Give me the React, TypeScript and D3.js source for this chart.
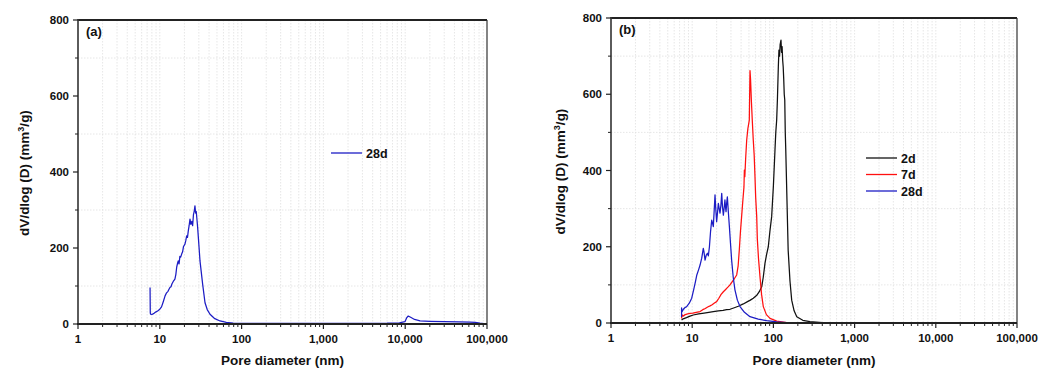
import React from "react";
import * as d3 from "d3";

const xTickValues = [1, 10, 100, 1000, 10000, 100000];
const xTickLabels = ["1", "10", "100", "1,000", "10,000", "100,000"];
const yTickValues = [0, 200, 400, 600, 800];
const yMinorValues = [100, 300, 500, 700];

const seriesA28: [number, number][] = [
  [7.6, 96], [7.65, 30], [7.7, 26], [8.0, 25], [8.5, 28], [9.0, 32], [9.5, 35], [10.0, 39], [10.5, 45],
  [11.0, 58], [11.6, 74], [12.1, 82], [12.6, 86], [13.0, 92], [13.3, 96], [13.7, 98], [14.1, 106],
  [14.6, 112], [15.3, 118], [15.7, 130], [16.1, 150], [16.5, 160], [16.8, 166], [17.2, 158], [17.6, 178],
  [18.0, 176], [18.5, 184], [19.0, 190], [19.5, 204], [20.3, 210], [20.8, 220], [21.3, 232], [21.8, 228],
  [22.3, 245], [22.8, 258], [23.4, 276], [24.0, 262], [24.6, 270], [25.2, 259], [25.8, 288], [26.4, 298],
  [26.9, 311], [27.4, 292], [27.9, 296], [28.3, 281], [29.0, 255], [29.6, 228], [31.0, 166], [33.4, 105],
  [35.7, 56], [38, 38], [41.1, 25.6], [47, 14], [54.5, 8], [65, 4], [79, 2], [100, 1.5], [300, 1.5],
  [1000, 1.5], [3000, 1.5], [6000, 2], [8500, 3], [9930, 6], [10400, 16], [10900, 21], [11800, 17],
  [13000, 12], [15200, 8], [20000, 7], [30000, 6], [45000, 5.5], [62000, 5], [72000, 4], [82000, 2],
  [92000, 1], [100000, 0.5],
];

const seriesB2: [number, number][] = [
  [7.4, 8], [7.6, 10], [8.5, 14], [9.4, 18], [10.3, 21], [12, 24], [14, 26], [16, 28], [18.2, 30],
  [21, 32], [24, 33], [26.5, 35], [29.2, 36], [33, 40], [37, 44], [42.6, 50], [48, 56], [52, 60],
  [56.5, 65], [62, 72], [67, 82], [71.8, 95], [75, 120], [78.8, 157], [82.5, 180], [86.5, 200],
  [90.5, 240], [95.2, 279], [100, 360], [104.6, 454], [107, 500], [109.7, 532], [112, 585], [115, 672],
  [117, 716], [119, 700], [121, 730], [124, 742], [126, 710], [128, 725], [130, 690], [132, 672],
  [134, 640], [136, 600], [138, 585], [140, 500], [142, 454], [147, 320], [152, 191], [160, 110],
  [168, 60], [180, 32], [194, 16.5], [230, 7], [282, 3.4], [400, 1], [546, 0.3], [10000, 0.3],
  [100000, 0.5],
];

const seriesB7: [number, number][] = [
  [7.4, 12], [7.45, 22], [7.7, 18], [8.2, 22], [8.8, 24], [9.4, 25], [10.2, 26], [11.2, 28], [12.5, 30],
  [13.5, 35], [14.5, 38], [15.5, 42], [16.6, 45], [17.6, 48], [18.6, 52], [20.0, 56], [21.3, 65],
  [22.7, 75], [24.2, 82], [25.8, 88], [27.5, 94], [29.2, 100], [31, 108], [33, 116], [35.3, 126],
  [36.8, 150], [38, 191], [39.3, 240], [40.6, 279], [42, 320], [43.4, 357], [43.9, 401], [44.5, 384],
  [45.5, 430], [46.9, 480], [48.5, 510], [50.5, 532], [51, 600], [51.5, 662], [52.3, 640], [53.5, 585],
  [55, 530], [56.5, 480], [58, 440], [59.3, 384], [60.5, 330], [62.3, 279], [63.4, 220], [65.5, 170],
  [68.4, 121], [71.5, 75], [75.1, 43], [82, 22], [90.8, 12], [110, 5], [146, 1], [250, 0.5],
  [1000, 0.3], [10000, 0.3], [100000, 0.5],
];

const seriesB28: [number, number][] = [
  [7.4, 16], [7.4, 40], [7.5, 30], [7.8, 36], [8.1, 40], [8.55, 43], [9.2, 52], [9.86, 65], [10.5, 90],
  [11.0, 110], [11.4, 126], [12.0, 140], [12.5, 152], [13.1, 170], [13.7, 196], [14.0, 185], [14.4, 165],
  [14.9, 178], [15.4, 183], [15.8, 176], [16.3, 200], [16.8, 238], [17.4, 270], [17.8, 262], [18.2, 253],
  [18.6, 290], [19.1, 336], [19.5, 300], [20.0, 266], [20.5, 290], [21.0, 314], [21.5, 300], [22.0, 288],
  [22.6, 310], [23.1, 340], [23.6, 305], [24.2, 283], [24.7, 300], [25.3, 323], [25.7, 305], [26.1, 292],
  [26.6, 315], [27.1, 331], [27.9, 290], [28.7, 253], [29.6, 210], [30.6, 165], [32, 120], [33.6, 87],
  [36, 60], [38.8, 43], [44, 28], [51.5, 16.5], [65, 10], [82.6, 6], [110, 3], [146, 1], [300, 0.5],
  [1000, 0.3], [10000, 0.3], [100000, 0.5],
];

const BLACK = "#111111";
const RED = "#ff1010";
const BLUE = "#1c1cc4";
const FONT = "'Liberation Sans', Arial, Helvetica, sans-serif";

type Series = { name: string; color: string; data: [number, number][] };

type PanelProps = {
  x0: number; x1: number; y0: number; y1: number;
  label: string;
  series: Series[];
  legendX: number; legendY: number; legendStep: number;
  yTitleX: number;
};

function Panel({ x0, x1, y0, y1, label, series, legendX, legendY, legendStep, yTitleX }: PanelProps) {
  const x = d3.scaleLog().domain([1, 100000]).range([x0, x1]);
  const y = d3.scaleLinear().domain([0, 800]).range([y0, y1]);
  const line = d3.line<[number, number]>().x((d) => x(d[0])).y((d) => y(d[1]));
  const minorX: number[] = [];
  for (let p = 0; p < 5; p++) {
    for (let m = 2; m <= 9; m++) minorX.push(m * Math.pow(10, p));
  }
  const gridColor = "#e0e0e0";
  return (
    <g>
      {[...minorX, ...xTickValues.slice(1, -1)].map((v, i) => (
        <line key={"gx" + i} x1={x(v)} x2={x(v)} y1={y1} y2={y0} stroke={gridColor} strokeWidth={0.8} strokeDasharray="1.5,1.5" />
      ))}
      {yMinorValues.map((v, i) => (
        <line key={"gy" + i} x1={x0} x2={x1} y1={y(v)} y2={y(v)} stroke={gridColor} strokeWidth={0.8} strokeDasharray="1.5,1.5" />
      ))}
      {series.map((s) => (
        <path key={s.name} d={line(s.data) || ""} fill="none" stroke={s.color} strokeWidth={1.25} strokeLinejoin="round" />
      ))}
      <line x1={x0} x2={x1} y1={y1} y2={y1} stroke="#222" strokeWidth={2} />
      <line x1={x1} x2={x1} y1={y1} y2={y0} stroke="#333" strokeWidth={1.2} />
      <line x1={x0} x2={x0} y1={y1 - 1} y2={y0 + 1} stroke="#333" strokeWidth={1.6} />
      <line x1={x0 - 1} x2={x1} y1={y0} y2={y0} stroke="#222" strokeWidth={1.8} />
      {yTickValues.map((v) => (
        <g key={"yt" + v}>
          <line x1={x0 - 5} x2={x0} y1={y(v)} y2={y(v)} stroke="#222" strokeWidth={1.2} />
          <text x={x0 - 9} y={y(v) + 4} textAnchor="end" fontSize={11.5} fontWeight="bold" fontFamily={FONT} fill="#111">{v}</text>
        </g>
      ))}
      {yMinorValues.map((v) => (
        <line key={"ym" + v} x1={x0 - 3} x2={x0} y1={y(v)} y2={y(v)} stroke="#222" strokeWidth={1} />
      ))}
      {xTickValues.map((v, i) => (
        <g key={"xt" + v}>
          <line x1={x(v)} x2={x(v)} y1={y0} y2={y0 + 5} stroke="#222" strokeWidth={1.2} />
          <text x={x(v)} y={y0 + 19} textAnchor="middle" fontSize={11.5} fontWeight="bold" fontFamily={FONT} fill="#111">{xTickLabels[i]}</text>
        </g>
      ))}
      {minorX.map((v, i) => (
        <line key={"xm" + i} x1={x(v)} x2={x(v)} y1={y0} y2={y0 + 3} stroke="#222" strokeWidth={1} />
      ))}
      <text x={(x0 + x1) / 2} y={365} textAnchor="middle" fontSize={13.5} fontWeight="bold" fontFamily={FONT} fill="#111">Pore diameter (nm)</text>
      <text transform={`translate(${yTitleX},${(y0 + y1) / 2 + 1}) rotate(-90)`} textAnchor="middle" fontSize={13.5} fontWeight="bold" fontFamily={FONT} fill="#111">
        dV/dlog (D) (mm<tspan dy={-5} fontSize={9}>3</tspan><tspan dy={5}>/g)</tspan>
      </text>
      <text x={x0 + 8} y={y1 + 16} fontSize={13} fontWeight="bold" fontFamily={FONT} fill="#111">{label}</text>
      {series.map((s, i) => (
        <g key={"lg" + s.name}>
          <line x1={legendX} x2={legendX + 31} y1={legendY + i * legendStep} y2={legendY + i * legendStep} stroke={s.color} strokeWidth={1.3} />
          <text x={legendX + 35} y={legendY + i * legendStep + 4.5} fontSize={12.5} fontWeight="bold" fontFamily={FONT} fill="#111">{s.name}</text>
        </g>
      ))}
    </g>
  );
}

export default function App() {
  return (
    <svg width={1049} height={370} style={{ position: "absolute", left: 0, top: 0, background: "#fff" }}>
      <rect x={0} y={0} width={1049} height={370} fill="#fff" />
      <Panel
        x0={78} x1={487} y0={324} y1={20} label="(a)"
        series={[{ name: "28d", color: BLUE, data: seriesA28 }]}
        legendX={331} legendY={153} legendStep={16.5} yTitleX={29}
      />
      <Panel
        x0={611} x1={1017} y0={323} y1={18} label="(b)"
        series={[
          { name: "2d", color: BLACK, data: seriesB2 },
          { name: "7d", color: RED, data: seriesB7 },
          { name: "28d", color: BLUE, data: seriesB28 },
        ]}
        legendX={866} legendY={158} legendStep={16.5} yTitleX={565}
      />
    </svg>
  );
}
